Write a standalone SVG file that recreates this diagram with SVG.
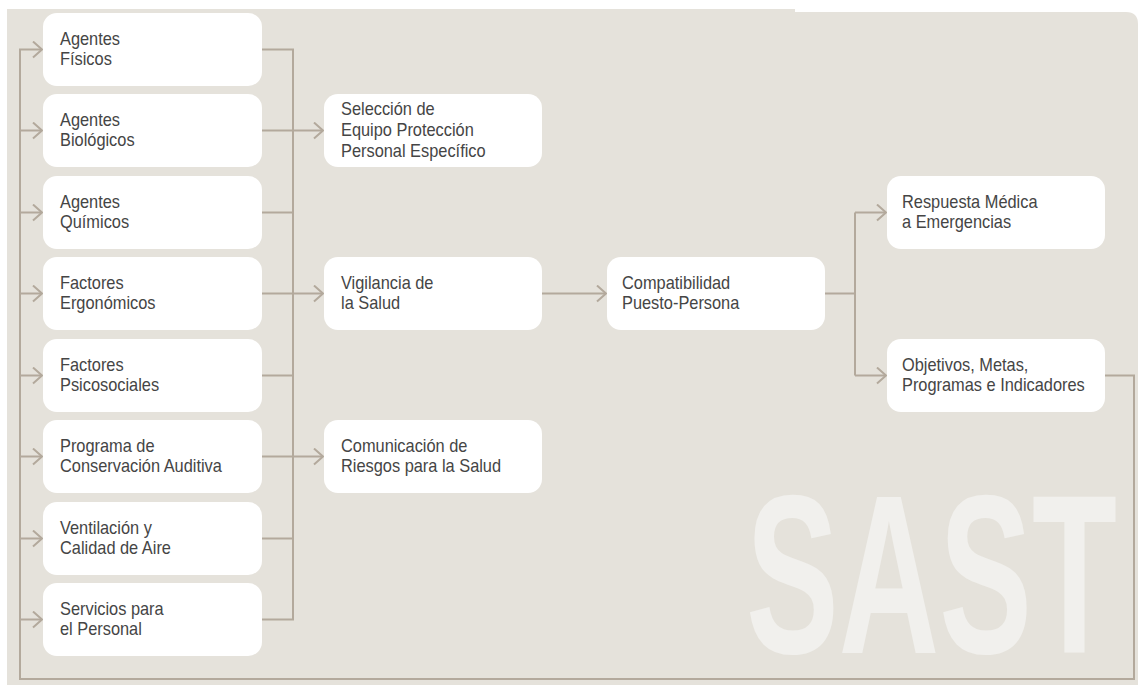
<svg xmlns="http://www.w3.org/2000/svg" width="1138" height="685" viewBox="0 0 1138 685">
<defs>
<style>
.box{fill:#ffffff;}
.lbl{font-family:"Liberation Sans",Arial,sans-serif;font-size:18px;fill:#454545;}
.ln{fill:none;stroke:#b3a99c;stroke-width:2;}
.big{font-family:"Liberation Sans",Arial,sans-serif;font-weight:bold;font-size:226px;fill:#f1f0ed;}
</style>
<marker id="chev" markerUnits="userSpaceOnUse" markerWidth="14" markerHeight="20" refX="10" refY="9" orient="auto" viewBox="0 0 14 20">
<path d="M1,1 L10,9 L1,17" fill="none" stroke="#b3a99c" stroke-width="2"/>
</marker>
</defs>
<rect x="0" y="0" width="1138" height="685" fill="#ffffff"/>
<path d="M7,9 H795 V12 H1126 Q1138,12 1138,24 V685 H7 Z" fill="#e5e2db"/>
<g id="watermark"><text class="big" x="746" y="653" textLength="371" lengthAdjust="spacingAndGlyphs">SAST</text></g>

<g id="connectors">
<path class="ln" d="M1105,375.5 H1134 V679 H20 V49.5 H42" marker-end="url(#chev)"/>
<path class="ln" d="M20,130.5 H42" marker-end="url(#chev)"/>
<path class="ln" d="M20,212.5 H42" marker-end="url(#chev)"/>
<path class="ln" d="M20,293.5 H42" marker-end="url(#chev)"/>
<path class="ln" d="M20,375.5 H42" marker-end="url(#chev)"/>
<path class="ln" d="M20,456.5 H42" marker-end="url(#chev)"/>
<path class="ln" d="M20,538.5 H42" marker-end="url(#chev)"/>
<path class="ln" d="M20,619.5 H42" marker-end="url(#chev)"/>
<path class="ln" d="M262,49.5 H293 V619.5 H262"/>
<path class="ln" d="M262,130.5 H293 M262,212.5 H293 M262,293.5 H293 M262,375.5 H293 M262,456.5 H293 M262,538.5 H293"/>
<path class="ln" d="M293,130.5 H323" marker-end="url(#chev)"/>
<path class="ln" d="M293,293.5 H323" marker-end="url(#chev)"/>
<path class="ln" d="M293,456.5 H323" marker-end="url(#chev)"/>
<path class="ln" d="M542,293.5 H606" marker-end="url(#chev)"/>
<path class="ln" d="M825,293.5 H855"/>
<path class="ln" d="M855,212.5 V375.5"/>
<path class="ln" d="M855,212.5 H886" marker-end="url(#chev)"/>
<path class="ln" d="M855,375.5 H886" marker-end="url(#chev)"/>
</g>

<g id="n1"><rect class="box" x="43" y="13" width="219" height="73" rx="14"/><text class="lbl" transform="translate(60,45) scale(0.91,1)"><tspan x="0" y="0">Agentes</tspan><tspan x="0" y="20">Físicos</tspan></text></g>
<g id="n2"><rect class="box" x="43" y="94" width="219" height="73" rx="14"/><text class="lbl" transform="translate(60,126) scale(0.91,1)"><tspan x="0" y="0">Agentes</tspan><tspan x="0" y="20">Biológicos</tspan></text></g>
<g id="n3"><rect class="box" x="43" y="176" width="219" height="73" rx="14"/><text class="lbl" transform="translate(60,208) scale(0.91,1)"><tspan x="0" y="0">Agentes</tspan><tspan x="0" y="20">Químicos</tspan></text></g>
<g id="n4"><rect class="box" x="43" y="257" width="219" height="73" rx="14"/><text class="lbl" transform="translate(60,289) scale(0.91,1)"><tspan x="0" y="0">Factores</tspan><tspan x="0" y="20">Ergonómicos</tspan></text></g>
<g id="n5"><rect class="box" x="43" y="339" width="219" height="73" rx="14"/><text class="lbl" transform="translate(60,371) scale(0.91,1)"><tspan x="0" y="0">Factores</tspan><tspan x="0" y="20">Psicosociales</tspan></text></g>
<g id="n6"><rect class="box" x="43" y="420" width="219" height="73" rx="14"/><text class="lbl" transform="translate(60,452) scale(0.91,1)"><tspan x="0" y="0">Programa de</tspan><tspan x="0" y="20">Conservación Auditiva</tspan></text></g>
<g id="n7"><rect class="box" x="43" y="502" width="219" height="73" rx="14"/><text class="lbl" transform="translate(60,534) scale(0.91,1)"><tspan x="0" y="0">Ventilación y</tspan><tspan x="0" y="20">Calidad de Aire</tspan></text></g>
<g id="n8"><rect class="box" x="43" y="583" width="219" height="73" rx="14"/><text class="lbl" transform="translate(60,615) scale(0.91,1)"><tspan x="0" y="0">Servicios para</tspan><tspan x="0" y="20">el Personal</tspan></text></g>

<g id="m1"><rect class="box" x="324" y="94" width="218" height="73" rx="14"/><text class="lbl" transform="translate(341,115) scale(0.91,1)"><tspan x="0" y="0">Selección de</tspan><tspan x="0" y="21">Equipo Protección</tspan><tspan x="0" y="42">Personal Específico</tspan></text></g>
<g id="m2"><rect class="box" x="324" y="257" width="218" height="73" rx="14"/><text class="lbl" transform="translate(341,289) scale(0.91,1)"><tspan x="0" y="0">Vigilancia de</tspan><tspan x="0" y="20">la Salud</tspan></text></g>
<g id="m3"><rect class="box" x="324" y="420" width="218" height="73" rx="14"/><text class="lbl" transform="translate(341,452) scale(0.91,1)"><tspan x="0" y="0">Comunicación de</tspan><tspan x="0" y="20">Riesgos para la Salud</tspan></text></g>

<g id="c1"><rect class="box" x="607" y="257" width="218" height="73" rx="14"/><text class="lbl" transform="translate(622,289) scale(0.91,1)"><tspan x="0" y="0">Compatibilidad</tspan><tspan x="0" y="20">Puesto-Persona</tspan></text></g>

<g id="r1"><rect class="box" x="887" y="176" width="218" height="73" rx="14"/><text class="lbl" transform="translate(902,208) scale(0.91,1)"><tspan x="0" y="0">Respuesta Médica</tspan><tspan x="0" y="20">a Emergencias</tspan></text></g>
<g id="r2"><rect class="box" x="887" y="339" width="218" height="73" rx="14"/><text class="lbl" transform="translate(902,371) scale(0.91,1)"><tspan x="0" y="0">Objetivos, Metas,</tspan><tspan x="0" y="20">Programas e Indicadores</tspan></text></g>
</svg>
